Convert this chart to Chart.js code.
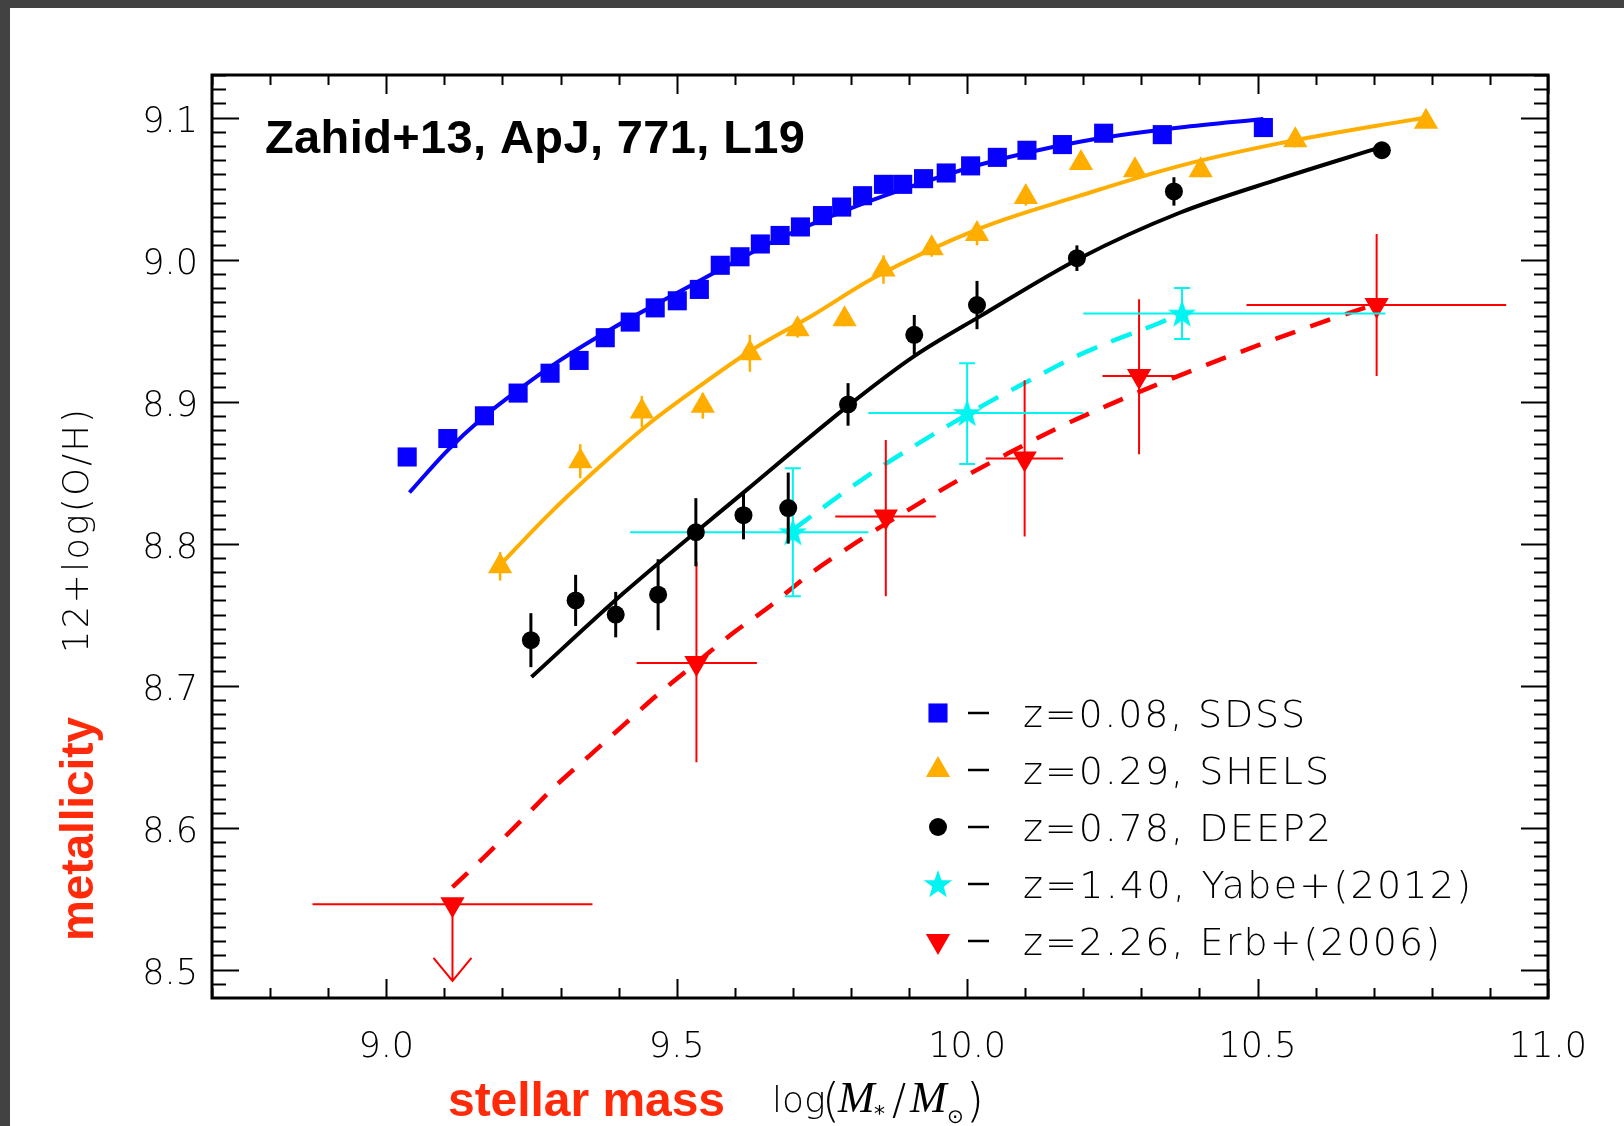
<!DOCTYPE html>
<html>
<head>
<meta charset="utf-8">
<script src="https://cdn.jsdelivr.net/npm/chart.js@4.4.1/dist/chart.umd.min.js"></script>
<style>
    html, body { margin: 0; padding: 0; background: #424242; }
    canvas { display: block; }
</style>
</head>
<body>
<canvas id="mzr" width="1624" height="1126"></canvas>
<script>
// Values
const xTickLabels = [9.0, 9.5, 10.0, 10.5, 11.0];
const yTickLabels = [8.5, 8.6, 8.7, 8.8, 8.9, 9.0, 9.1];

// z=0.08 SDSS
const sdssMass = [9.036, 9.106, 9.169, 9.227, 9.282, 9.332, 9.377, 9.420, 9.463, 9.501, 9.539, 9.575, 9.609, 9.644, 9.678,
    9.713, 9.751, 9.784, 9.820, 9.856, 9.889, 9.925, 9.964, 10.006, 10.052, 10.103, 10.164, 10.235, 10.336, 10.510];
const sdssOH = [8.861, 8.874, 8.890, 8.906, 8.920, 8.929, 8.945, 8.956, 8.966, 8.971, 8.979, 8.996, 9.002, 9.011, 9.017,
    9.023, 9.031, 9.037, 9.045, 9.053, 9.053, 9.057, 9.061, 9.066, 9.072, 9.077, 9.081, 9.089, 9.088, 9.093];
const sdssFitMass = [9.040, 9.104, 9.167, 9.230, 9.299, 9.391, 9.494, 9.575, 9.678, 9.793, 9.879, 10.023, 10.194, 10.366, 10.510];
const sdssFitOH = [8.836, 8.865, 8.889, 8.909, 8.929, 8.952, 8.975, 8.993, 9.015, 9.035, 9.048, 9.067, 9.083, 9.093, 9.099];

// z=0.29 SHELS
const shelsMass = [9.196, 9.334, 9.440, 9.545, 9.626, 9.708, 9.789, 9.856, 9.939, 10.017, 10.101, 10.196, 10.289, 10.402, 10.565, 10.790];
const shelsOH = [8.784, 8.858, 8.893, 8.897, 8.934, 8.951, 8.958, 8.993, 9.008, 9.018, 9.044, 9.068, 9.063, 9.063, 9.084, 9.097];
const shelsErr = [0.010, 0.012, 0.011, 0.009, 0.013, 0.006, 0.005, 0.010, 0.006, 0.008, 0.006, 0.005, 0.005, 0.005, 0.005, 0.004];
const shelsFitMass = [9.196, 9.276, 9.356, 9.448, 9.540, 9.632, 9.735, 9.839, 10.022, 10.194, 10.366, 10.539, 10.745, 10.790];
const shelsFitOH = [8.785, 8.819, 8.850, 8.883, 8.911, 8.937, 8.961, 8.987, 9.022, 9.045, 9.066, 9.082, 9.097, 9.100];

// z=0.78 DEEP2
const deep2Mass = [9.249, 9.326, 9.395, 9.468, 9.533, 9.615, 9.692, 9.795, 9.909, 10.017, 10.189, 10.356, 10.714];
const deep2OH = [8.732, 8.760, 8.750, 8.764, 8.808, 8.820, 8.825, 8.898, 8.947, 8.968, 9.001, 9.048, 9.077];
const deep2Err = [0.019, 0.018, 0.016, 0.025, 0.024, 0.017, 0.025, 0.015, 0.014, 0.017, 0.009, 0.010, 0.003];
const deep2FitMass = [9.250, 9.408, 9.621, 9.795, 9.909, 10.022, 10.194, 10.366, 10.539, 10.711];
const deep2FitOH = [8.706, 8.765, 8.838, 8.897, 8.932, 8.960, 9.001, 9.033, 9.057, 9.079];

// z=1.40 Yabe+(2012)
const yabeMass = [9.700, 10.000, 10.370];
const yabeOH = [8.808, 8.892, 8.962];
const yabeMassLo = [9.420, 9.830, 10.200];
const yabeMassHi = [9.830, 10.200, 10.720];
const yabeOHLo = [8.763, 8.856, 8.944];
const yabeOHHi = [8.853, 8.927, 8.980];
const yabeFitMass = [9.701, 9.764, 9.833, 9.902, 9.971, 10.039, 10.108, 10.183, 10.258, 10.329, 10.367];
const yabeFitOH = [8.810, 8.829, 8.849, 8.867, 8.884, 8.900, 8.915, 8.931, 8.944, 8.955, 8.962];

// z=2.26 Erb+(2006); first point is an upper limit
const erbMass = [9.114, 9.534, 9.860, 10.099, 10.296, 10.705];
const erbOH = [8.546, 8.716, 8.819, 8.860, 8.918, 8.968];
const erbMassLo = [8.873, 9.431, 9.773, 10.032, 10.233, 10.481];
const erbMassHi = [9.355, 9.638, 9.946, 10.165, 10.359, 10.928];
const erbOHLo = [8.492, 8.646, 8.763, 8.805, 8.863, 8.918];
const erbOHHi = [8.546, 8.787, 8.873, 8.915, 8.972, 9.018];
const erbUpperLimit = [true, false, false, false, false, false];
const erbFitMass = [9.114, 9.173, 9.230, 9.288, 9.348, 9.408, 9.471, 9.534, 9.597, 9.661, 9.724, 9.810, 9.896, 9.982,
    10.068, 10.154, 10.240, 10.327, 10.413, 10.510, 10.619, 10.699];
const erbFitOH = [8.558, 8.581, 8.604, 8.628, 8.650, 8.672, 8.695, 8.716, 8.737, 8.756, 8.777, 8.801, 8.823, 8.844,
    8.863, 8.881, 8.897, 8.912, 8.926, 8.941, 8.957, 8.968];

const legendLabels = ['z=0.08, SDSS', 'z=0.29, SHELS', 'z=0.78, DEEP2', 'z=1.40, Yabe+(2012)', 'z=2.26, Erb+(2006)'];

// Colours
const BLUE = '#0800ff';
const ORANGE = '#ffae00';
const BLACK = '#000000';
const CYAN = '#00f5f0';
const RED = '#ff0000';
const LABEL_RED = '#ff2a0a';

const pts = (xs, ys) => xs.map((x, i) => ({ x, y: ys[i] }));

// filled five-point star used as point style
function makeStar(color, outer, inner) {
    const c = document.createElement('canvas');
    const s = Math.ceil(outer * 2 + 2);
    c.width = s;
    c.height = s;
    const g = c.getContext('2d');
    g.fillStyle = color;
    g.beginPath();
    for (let k = 0; k < 10; k++) {
        const r = k % 2 ? inner : outer;
        const a = -Math.PI / 2 + k * Math.PI / 5;
        g.lineTo(s / 2 + r * Math.cos(a), s / 2 + r * Math.sin(a) + 1);
    }
    g.closePath();
    g.fill();
    return c;
}
const starImg = makeStar(CYAN, 15, 6);

const markerSets = [
    { label: legendLabels[0], data: pts(sdssMass, sdssOH), pointStyle: 'rect', pointRadius: 13.5, backgroundColor: BLUE },
    { label: legendLabels[1], data: pts(shelsMass, shelsOH), pointStyle: 'triangle', pointRadius: 14, backgroundColor: ORANGE,
      errorBars: { yLo: shelsOH.map((v, i) => v - shelsErr[i]), yHi: shelsOH.map((v, i) => v + shelsErr[i]), color: ORANGE, width: 2.5 } },
    { label: legendLabels[2], data: pts(deep2Mass, deep2OH), pointStyle: 'circle', pointRadius: 9, backgroundColor: BLACK,
      errorBars: { yLo: deep2OH.map((v, i) => v - deep2Err[i]), yHi: deep2OH.map((v, i) => v + deep2Err[i]), color: BLACK, width: 3 } },
    { label: legendLabels[3], data: pts(yabeMass, yabeOH), pointStyle: starImg, pointRadius: 15, backgroundColor: CYAN,
      errorBars: { xLo: yabeMassLo, xHi: yabeMassHi, yLo: yabeOHLo, yHi: yabeOHHi, color: CYAN, width: 2, cap: 8 } },
    { label: legendLabels[4], data: pts(erbMass, erbOH), pointStyle: 'triangle', pointRotation: 180, pointRadius: 14, backgroundColor: RED,
      errorBars: { xLo: erbMassLo, xHi: erbMassHi, yLo: erbOHLo, yHi: erbOHHi, limit: erbUpperLimit, color: RED, width: 2 } }
].map(d => ({ ...d, showLine: false, borderWidth: 0, pointHoverRadius: d.pointRadius }));

const fitSets = [
    { data: pts(sdssFitMass, sdssFitOH), borderColor: BLUE, borderWidth: 4 },
    { data: pts(shelsFitMass, shelsFitOH), borderColor: ORANGE, borderWidth: 4 },
    { data: pts(deep2FitMass, deep2FitOH), borderColor: BLACK, borderWidth: 4 },
    { data: pts(yabeFitMass, yabeFitOH), borderColor: CYAN, borderWidth: 4.5, borderDash: [22, 15] },
    { data: pts(erbFitMass, erbFitOH), borderColor: RED, borderWidth: 4.5, borderDash: [21, 16] }
].map(d => ({ ...d, showLine: true, pointRadius: 0, cubicInterpolationMode: 'monotone', fill: false }));

// Page background: grey border and white slide
const slidePanel = {
    id: 'slidePanel',
    beforeDraw(chart) {
        const ctx = chart.ctx;
        ctx.save();
        ctx.fillStyle = '#424242';
        ctx.fillRect(0, 0, chart.width, chart.height);
        ctx.fillStyle = '#ffffff';
        ctx.fillRect(10, 8, chart.width - 10, chart.height - 8);
        ctx.restore();
    }
};

// Error bars drawn just before each marker dataset
const errorBars = {
    id: 'errorBars',
    beforeDatasetDraw(chart, args) {
        const ds = chart.data.datasets[args.index];
        const eb = ds.errorBars;
        if (!eb) return;
        const xs = chart.scales.x;
        const ys = chart.scales.y;
        const ctx = chart.ctx;
        ctx.save();
        ctx.strokeStyle = eb.color;
        ctx.lineWidth = eb.width;
        ds.data.forEach((p, i) => {
            const px = xs.getPixelForValue(p.x);
            const py = ys.getPixelForValue(p.y);
            ctx.beginPath();
            if (eb.xLo) {
                ctx.moveTo(xs.getPixelForValue(eb.xLo[i]), py);
                ctx.lineTo(xs.getPixelForValue(eb.xHi[i]), py);
            }
            const yLo = ys.getPixelForValue(eb.yLo[i]);
            const yHi = ys.getPixelForValue(eb.yHi[i]);
            ctx.moveTo(px, yLo);
            ctx.lineTo(px, yHi);
            if (eb.cap) {
                ctx.moveTo(px - eb.cap, yLo);
                ctx.lineTo(px + eb.cap, yLo);
                ctx.moveTo(px - eb.cap, yHi);
                ctx.lineTo(px + eb.cap, yHi);
            }
            if (eb.limit && eb.limit[i]) {
                ctx.moveTo(px - 19, yLo - 23);
                ctx.lineTo(px, yLo);
                ctx.lineTo(px + 19, yLo - 23);
            }
            ctx.stroke();
        });
        ctx.restore();
    }
};

// Box frame with inward ticks on all four sides
const frameTicks = {
    id: 'frameTicks',
    afterDatasetsDraw(chart) {
        const { ctx, chartArea: a } = chart;
        const xs = chart.scales.x;
        const ys = chart.scales.y;
        ctx.save();
        ctx.strokeStyle = '#000';
        ctx.lineWidth = 2;
        ctx.beginPath();
        for (let k = 87; k <= 110; k++) {
            const px = Math.round(xs.getPixelForValue(k / 10)) + 0.5;
            const len = k % 5 === 0 ? 19 : 10;
            ctx.moveTo(px, a.bottom); ctx.lineTo(px, a.bottom - len);
            ctx.moveTo(px, a.top); ctx.lineTo(px, a.top + len);
        }
        for (let k = 849; k <= 913; k++) {
            const py = Math.round(ys.getPixelForValue(k / 100)) + 0.5;
            const len = k % 10 === 0 ? 27 : 14;
            ctx.moveTo(a.left, py); ctx.lineTo(a.left + len, py);
            ctx.moveTo(a.right, py); ctx.lineTo(a.right - len, py);
        }
        ctx.stroke();
        ctx.lineWidth = 3;
        ctx.strokeRect(a.left, a.top, a.right - a.left, a.bottom - a.top);
        ctx.restore();
    }
};

// text drawn to a target width by adjusting letter spacing
function fitText(ctx, text, x, y, width) {
    ctx.letterSpacing = '0px';
    const w = ctx.measureText(text).width;
    ctx.letterSpacing = ((width - w) / Math.max(1, text.length - 1)) + 'px';
    ctx.fillText(text, x, y);
    ctx.letterSpacing = '0px';
}

// Titles, axis names and legend
const annotations = {
    id: 'annotations',
    afterDraw(chart) {
        const ctx = chart.ctx;
        ctx.save();
        ctx.textBaseline = 'alphabetic';
        ctx.textAlign = 'left';

        ctx.fillStyle = '#000';
        ctx.font = 'bold 47px "Liberation Sans", Arial, sans-serif';
        fitText(ctx, 'Zahid+13, ApJ, 771, L19', 265, 153, 540);

        // x axis name
        ctx.fillStyle = LABEL_RED;
        ctx.font = 'bold 48px "Liberation Sans", Arial, sans-serif';
        fitText(ctx, 'stellar mass', 448, 1116, 277);

        // log(M*/Msun)
        ctx.fillStyle = '#000';
        const by = 1112;
        const light = size => `200 ${size}px "DejaVu Sans", sans-serif`;
        const ital = 'italic 44px "Liberation Serif", serif';
        ctx.font = light(36);
        ctx.fillText('log', 772, by);
        ctx.font = light(46);
        ctx.fillText('(', 822, by + 4);
        ctx.font = ital;
        ctx.fillText('M', 838, by);
        ctx.font = '22px "DejaVu Sans", sans-serif';
        ctx.fillText('*', 874, by + 9);
        ctx.font = light(42);
        ctx.fillText('/', 892, by + 2);
        ctx.font = ital;
        ctx.fillText('M', 910, by);
        ctx.font = '20px "DejaVu Sans", sans-serif';
        ctx.fillText('\u2299', 947, by + 11);
        ctx.font = light(46);
        ctx.fillText(')', 966, by + 4);

        // y axis name, rotated
        ctx.save();
        ctx.translate(93, 829);
        ctx.rotate(-Math.PI / 2);
        ctx.fillStyle = LABEL_RED;
        ctx.font = 'bold 46px "Liberation Sans", Arial, sans-serif';
        fitText(ctx, 'metallicity', -112, 0, 224);
        ctx.restore();

        ctx.save();
        ctx.translate(88, 531);
        ctx.rotate(-Math.PI / 2);
        ctx.fillStyle = '#000';
        ctx.font = light(35);
        fitText(ctx, '12+log(O/H)', -122, 0, 244);
        ctx.restore();

        // legend
        const rowY = [713, 770, 827, 884, 941];
        const textEnds = [1305, 1329, 1331, 1471, 1440];
        chart.data.datasets.slice(0, 5).forEach((ds, i) => {
            const y = rowY[i];
            ctx.fillStyle = ds.backgroundColor;
            Chart.helpers.drawPoint(ctx, {
                pointStyle: ds.pointStyle,
                rotation: ds.pointRotation || 0,
                radius: ds.pointRadius,
                borderWidth: 0
            }, 938, y);
            ctx.strokeStyle = '#000';
            ctx.lineWidth = 2.5;
            ctx.beginPath();
            ctx.moveTo(968, y);
            ctx.lineTo(989, y);
            ctx.stroke();
            ctx.fillStyle = '#000';
            ctx.font = light(38);
            fitText(ctx, ds.label, 1023, y + 14, textEnds[i] - 1023);
        });
        ctx.restore();
    }
};

const tickFont = { family: "'DejaVu Sans', sans-serif", size: 35, weight: 200 };

new Chart(document.getElementById('mzr'), {
    type: 'scatter',
    data: { datasets: [...markerSets, ...fitSets] },
    options: {
        responsive: false,
        animation: false,
        layout: { padding: { left: 0, top: 75, right: 76, bottom: 0 } },
        plugins: {
            legend: { display: false },
            tooltip: { enabled: false }
        },
        scales: {
            x: {
                type: 'linear',
                min: 8.7,
                max: 11.0,
                grid: { display: false },
                border: { display: false },
                afterBuildTicks: s => { s.ticks = xTickLabels.map(v => ({ value: v })); },
                afterFit: s => { s.height = 128; },
                ticks: {
                    color: '#000',
                    font: tickFont,
                    padding: 21,
                    maxRotation: 0,
                    autoSkip: false,
                    callback: v => Number(v).toFixed(1)
                }
            },
            y: {
                type: 'linear',
                min: 8.48,
                max: 9.13,
                grid: { display: false },
                border: { display: false },
                afterBuildTicks: s => { s.ticks = yTickLabels.map(v => ({ value: v })); },
                afterFit: s => { s.width = 212; },
                ticks: {
                    color: '#000',
                    font: tickFont,
                    padding: 6,
                    labelOffset: 5,
                    autoSkip: false,
                    callback: v => Number(v).toFixed(1)
                }
            }
        }
    },
    plugins: [slidePanel, errorBars, frameTicks, annotations]
});
</script>
</body>
</html>
